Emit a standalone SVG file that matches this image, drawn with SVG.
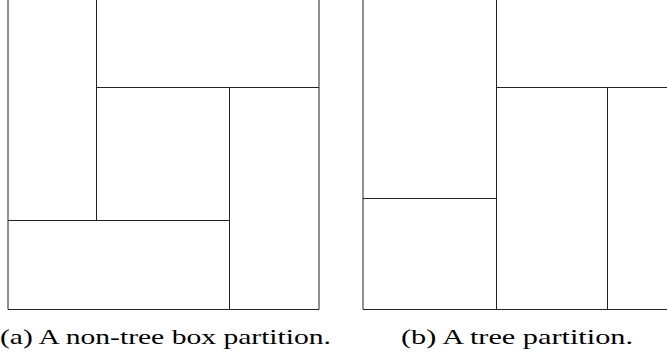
<svg xmlns="http://www.w3.org/2000/svg" width="667" height="358" viewBox="0 0 667 358">
<style>
.l{stroke:#222;stroke-width:1;fill:none}
.t{font-family:"Liberation Serif","DejaVu Serif",serif;font-size:21px;fill:#000}
</style>
<rect width="667" height="358" fill="#fff"/>
<g id="partition-a">
<path class="l" d="M8,0V309.5H319V0M96.5,0V220.5M96.5,87.5H319M229.5,87.5V309.5M8,220.5H229.5"/>
</g>
<g id="partition-b">
<path class="l" d="M363,0V309.5H667M496.5,0V309.5M363,198.5H496.5M496.5,87.5H667M607.5,87.5V309.5"/>
</g>
<g id="captions">
<text class="t" x="0" y="344" textLength="331" lengthAdjust="spacingAndGlyphs">(a) A non-tree box partition.</text>
<text class="t" x="401" y="344" textLength="232" lengthAdjust="spacingAndGlyphs">(b) A tree partition.</text>
</g>
</svg>
